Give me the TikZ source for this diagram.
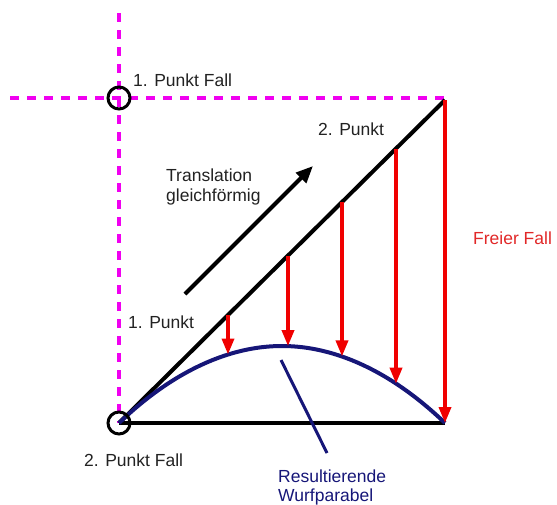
\documentclass[tikz,border=0pt]{standalone}
\usepackage{fontspec}
\setmainfont{Liberation Sans}
\usetikzlibrary{arrows.meta}
\definecolor{txtgray}{RGB}{34,34,34}
\definecolor{navy}{RGB}{22,22,120}
\definecolor{fallred}{RGB}{240,0,0}
\definecolor{lblred}{RGB}{225,40,40}
\definecolor{mag}{RGB}{240,0,240}
\tikzset{
  lbl/.style={inner sep=0pt, anchor=base west, font=\fontsize{17.5}{20}\selectfont, text=txtgray},
  guide/.style={mag, line width=4pt, dash pattern=on 9pt off 8pt},
  mainline/.style={black, line width=4pt},
  fallarrow/.style={fallred, line width=3.5pt, -{Triangle[width=12pt,length=16pt]}},
  mark circle/.style={draw=black, line width=3pt, circle, minimum size=22pt, inner sep=0pt},
}
\begin{document}
\begin{tikzpicture}[x=1pt,y=-1pt]
\useasboundingbox (0,0) rectangle (557,504);
% key points
\coordinate (O) at (119,423);
\coordinate (P) at (119,98);
\coordinate (T) at (445,100);
\coordinate (B) at (445,423);
\coordinate (V) at (282,346);
\coordinate (vtop) at (119,13);
\coordinate (hleft) at (10,98);
\coordinate (hright) at (445,98);
% magenta guides
\draw[guide] (vtop) -- (O);
\draw[guide] (hleft) -- (hright);
% main lines
\draw[mainline] (O) -- (T);
\draw[mainline] (O) -- (B);
% parabola
\draw[navy, line width=4pt] (O) parabola bend (V) (B);
% free fall arrows
\coordinate (a1) at (228,315.0); \coordinate (b1) at (228,354.5);
\coordinate (a2) at (288,255.6); \coordinate (b2) at (288,346.1);
\coordinate (a3) at (342,202.1); \coordinate (b3) at (342,356.4);
\coordinate (a4) at (396,148.5); \coordinate (b4) at (396,383.7);
\draw[fallarrow] (a1) -- (b1);
\draw[fallarrow] (a2) -- (b2);
\draw[fallarrow] (a3) -- (b3);
\draw[fallarrow] (a4) -- (b4);
\draw[fallarrow] (T) -- (B);
% circles
\node[mark circle] (cP) at (P) {};
\node[mark circle] (cO) at (O) {};
% translation arrow
\coordinate (ts) at (185,294);
\coordinate (te) at (313,166);
\draw[black, line width=4pt, -{Triangle[width=14pt,length=17pt]}] (ts) -- (te);
% label pointer
\coordinate (ps) at (281,360);
\coordinate (pe) at (327,453);
\draw[navy, line width=3pt] (ps) -- (pe);
% labels
\node[lbl] (l1) at (133,86) {1. Punkt Fall};
\node[lbl] (l2) at (318,135) {2. Punkt};
\node[lbl] (l3) at (128,328) {1. Punkt};
\node[lbl] (l4) at (84,466) {2. Punkt Fall};
\node[lbl] (l5) at (166,181) {Translation};
\node[lbl] (l6) at (166,201) {gleichförmig};
\node[lbl, text=lblred] (l7) at (473,244) {Freier Fall};
\node[lbl, text=navy] (l8) at (278,482) {Resultierende};
\node[lbl, text=navy] (l9) at (278,501) {Wurfparabel};
\end{tikzpicture}
\end{document}
